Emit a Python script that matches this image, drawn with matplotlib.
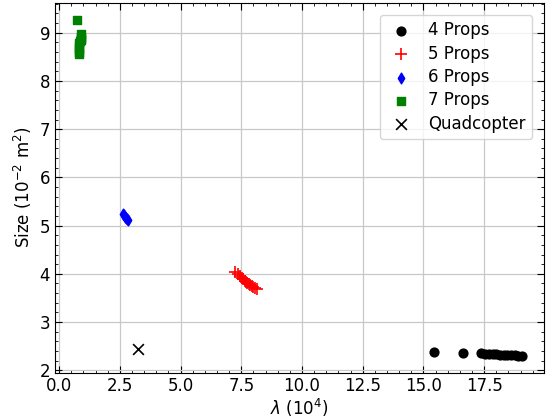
import matplotlib.pyplot as plt
from matplotlib.ticker import AutoMinorLocator

# --- Datos (lambda en 1e4, tamaño en 1e-2 m^2) ---
x4 = [15.44, 16.64, 17.37, 17.55, 17.70, 17.85, 18.00, 18.15, 18.30, 18.45, 18.60, 18.75, 18.90, 19.05]
y4 = [2.37, 2.36, 2.35, 2.34, 2.34, 2.33, 2.33, 2.32, 2.32, 2.31, 2.31, 2.31, 2.30, 2.30]
x5 = [7.22, 7.35, 7.45, 7.52, 7.58, 7.64, 7.70, 7.75, 7.80, 7.86, 7.92, 7.98, 8.05, 8.15]
y5 = [4.04, 3.99, 3.95, 3.92, 3.89, 3.86, 3.83, 3.81, 3.78, 3.76, 3.74, 3.72, 3.70, 3.69]
x6 = [2.62, 2.66, 2.70, 2.74, 2.78, 2.82]
y6 = [5.24, 5.21, 5.18, 5.15, 5.13, 5.11]
x7 = [0.74, 0.88, 0.90, 0.91, 0.89, 0.86, 0.83, 0.82, 0.81, 0.80, 0.81]
y7 = [9.27, 8.97, 8.92, 8.88, 8.85, 8.82, 8.78, 8.72, 8.66, 8.60, 8.56]
xq = [3.25]
yq = [2.45]
salida_png = "out.png"
# -------------------

plt.rcParams["font.size"] = 12

fig, ax = plt.subplots(figsize=(5.49, 4.2), dpi=100)
fig.subplots_adjust(left=0.1, right=0.991, top=0.993, bottom=0.113)

ax.scatter(x4, y4, marker="o", color="black", s=40, label="4 Props", zorder=3)
ax.scatter(x5, y5, marker="+", color="red", s=80, linewidths=1.2, label="5 Props", zorder=3)
ax.scatter(x6, y6, marker="d", color="blue", s=30, label="6 Props", zorder=3)
ax.scatter(x7, y7, marker="s", color="green", s=28, label="7 Props", zorder=3)
ax.scatter(xq, yq, marker="x", color="black", s=60, linewidths=1.2, label="Quadcopter", zorder=3)

ax.set_xlabel(r"$\lambda$ ($10^4$)", labelpad=1)
ax.set_ylabel(r"Size ($10^{-2}$ m$^2$)")

ax.grid(True, color="#c8c8c8", linewidth=0.9)
ax.set_axisbelow(True)
ax.xaxis.set_minor_locator(AutoMinorLocator(5))
ax.yaxis.set_minor_locator(AutoMinorLocator(5))
ax.tick_params(which="both", direction="in", top=True, right=True)
ax.tick_params(which="major", length=5)
ax.tick_params(which="minor", length=2.5)

ax.legend(loc="upper right", fontsize=12, fancybox=True, framealpha=0.8,
          labelspacing=0.32, borderaxespad=0.7, handlelength=1.7)

plt.savefig(salida_png, dpi=100)
print(f"Guardado en: {salida_png}")
